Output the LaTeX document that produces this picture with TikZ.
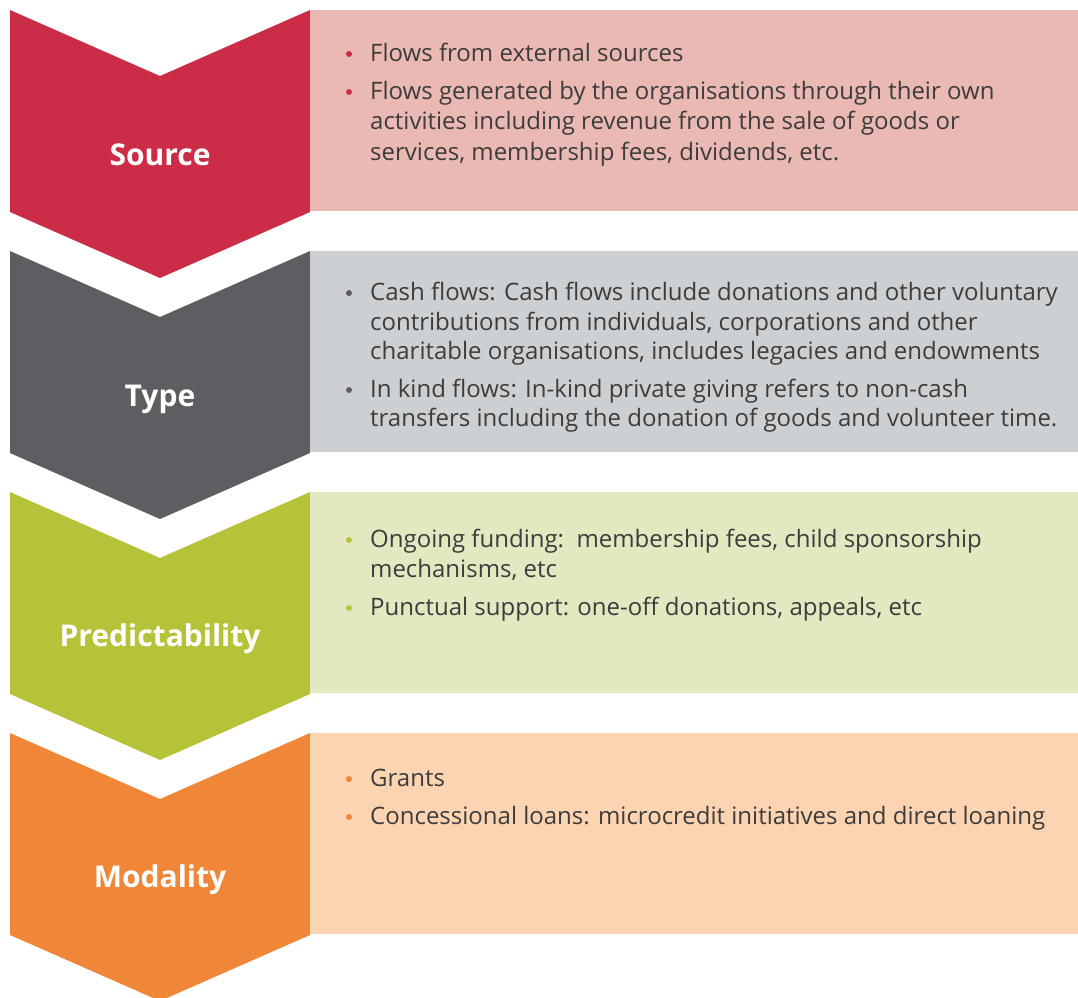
\documentclass[tikz,border=0pt]{standalone}
\usepackage{fontspec}
\setmainfont{Open Sans}
\definecolor{cRed}{HTML}{CB2D47}
\definecolor{cRedL}{HTML}{EBB9B3}
\definecolor{cGray}{HTML}{5E5E62}
\definecolor{cGrayL}{HTML}{CDD0D3}
\definecolor{cGreen}{HTML}{B6C338}
\definecolor{cGreenL}{HTML}{E3E8C0}
\definecolor{cOrange}{HTML}{F08637}
\definecolor{cOrangeL}{HTML}{FDD4B1}
\definecolor{cText}{HTML}{3C3C3C}
\tikzset{
  label/.style={text=white,font=\bfseries\fontsize{30}{36}\selectfont,inner sep=0pt,anchor=base},
  line/.style={text=cText,font=\fontsize{24}{31}\selectfont,inner sep=0pt,anchor=base west},
}
\newcommand{\chev}[3]{%
  \fill[#2] (10,#1) -- (160,#1+66) -- (310,#1) -- (310,#1+202) -- (160,#1+268) -- (10,#1+202) -- cycle;
  \fill[#3] (310,#1) rectangle (1078,#1+201);
}
\newcommand{\bul}[2]{\fill[#1] (349,#2-7) circle (3);}
\begin{document}
\begin{tikzpicture}[x=1pt,y={(0pt,-1pt)}]
\useasboundingbox (0,0) rectangle (1078,997);
\clip (0,0) rectangle (1078,997);
\chev{10}{cRed}{cRedL}
\chev{251}{cGray}{cGrayL}
\chev{492}{cGreen}{cGreenL}
\chev{733}{cOrange}{cOrangeL}
\node[label] (lsource) at (160,165) {Source};
\node[label] (ltype) at (160,406) {Type};
\node[label] (lpred) at (160,646) {Predictability};
\node[label] (lmod) at (160,887) {Modality};
% Source
\bul{cRed}{61}\node[line] (s1) at (370,61) {Flows from external sources};
\bul{cRed}{99}\node[line] (s2a) at (370,99) {Flows generated by the organisations through their own};
\node[line] (s2b) at (370,129) {activities including revenue from the sale of goods or};
\node[line] (s2c) at (370,160) {services, membership fees, dividends, etc.};
% Type
\bul{cGray}{300}\node[line] (t1a) at (370,300) {Cash flows: Cash flows include donations and other voluntary};
\node[line] (t1b) at (370,330) {contributions from individuals, corporations and other};
\node[line] (t1c) at (370,359) {charitable organisations, includes legacies and endowments};
\bul{cGray}{397}\node[line] (t2a) at (370,397) {In kind flows: In-kind private giving refers to non-cash};
\node[line] (t2b) at (370,426) {transfers including the donation of goods and volunteer time.};
% Predictability
\bul{cGreen}{547}\node[line] (p1a) at (370,547) {Ongoing funding:\ \ membership fees, child sponsorship};
\node[line] (p1b) at (370,577) {mechanisms, etc};
\bul{cGreen}{615}\node[line] (p2) at (370,615) {Punctual support: one-off donations, appeals, etc};
% Modality
\bul{cOrange}{786}\node[line] (m1) at (370,786) {Grants};
\bul{cOrange}{824}\node[line] (m2) at (370,824) {Concessional loans: microcredit initiatives and direct loaning};
\end{tikzpicture}
\end{document}
